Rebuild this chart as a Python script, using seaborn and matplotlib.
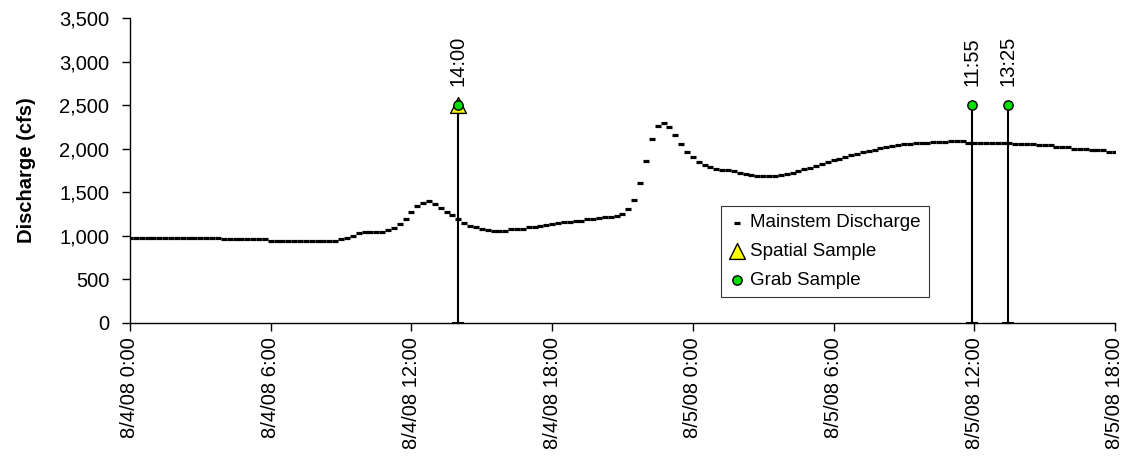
import pandas as pd
import matplotlib.pyplot as plt
import matplotlib.dates as mdates
from matplotlib.ticker import FuncFormatter, MultipleLocator
import seaborn as sns

# --- data (15 minute discharge, cfs) ---
START = "2008-08-04 00:00"
discharge = [
    978, 978, 978, 978, 978, 978, 978, 978, 978, 978, 978, 978, 978, 978, 978, 978,
    960, 960, 960, 960, 960, 960, 960, 960,
    945, 945, 945, 945, 945, 945, 945, 945, 945, 945, 945, 945,
    959, 977, 1000, 1031, 1050, 1050, 1050, 1050, 1065, 1085, 1134, 1188, 1272, 1341,
    1380, 1395, 1364, 1322, 1272, 1238, 1188,
    1150, 1115, 1096, 1080, 1070, 1061, 1061, 1061, 1077, 1080, 1080, 1100, 1104, 1115,
    1119, 1138, 1142, 1157, 1157, 1172, 1175, 1188, 1190, 1203,
    1211, 1219, 1230, 1249, 1311, 1414, 1602, 1862, 2108, 2261, 2299, 2253, 2161, 2057,
    1966, 1901, 1844, 1809, 1786, 1770, 1759, 1751, 1740, 1724, 1713, 1701, 1690, 1690,
    1686, 1686, 1698, 1709, 1724, 1747, 1763, 1782, 1805, 1824, 1847, 1866, 1885, 1905,
    1924, 1943, 1959, 1977, 1989, 2004, 2016, 2034, 2046, 2050, 2058, 2066, 2069, 2069,
    2073, 2073, 2081,
    2092, 2092, 2092,
    2069, 2069, 2069, 2069, 2069, 2069, 2069, 2069,
    2054, 2054, 2054, 2054,
    2039, 2039, 2039,
    2020, 2020, 2020,
    2000, 2000, 2000,
    1985, 1985, 1985,
    1966, 1966,
]
times = pd.date_range(START, periods=len(discharge), freq="15min")

spatial_times = pd.to_datetime(["2008-08-04 14:00"])
spatial_values = [2500]
grab_times = pd.to_datetime(["2008-08-04 14:00", "2008-08-05 11:55", "2008-08-05 13:25"])
grab_values = [2500, 2500, 2500]
grab_labels = ["14:00", "11:55", "13:25"]

sns.set_style("ticks")
plt.rcParams["font.family"] = ["Liberation Sans", "DejaVu Sans"]
plt.rcParams.update({"text.color": "black", "axes.labelcolor": "black",
                     "xtick.color": "black", "ytick.color": "black"})

fig = plt.figure(figsize=(11.27, 4.66), dpi=100)
ax = fig.add_axes([130 / 1127, 1 - 323 / 466, 985 / 1127, 305 / 466])

# vertical drop lines from each sample down to zero, capped at the bottom
ax.vlines(grab_times, 0, grab_values, color="black", linewidth=1.5, zorder=2)
sns.scatterplot(x=grab_times, y=[0] * len(grab_times), marker="_", s=80,
                color="black", linewidth=1.5, ax=ax, zorder=2, clip_on=False)

sns.scatterplot(x=times, y=discharge, marker="_", s=18, color="black",
                linewidth=2.3, ax=ax, label="Mainstem Discharge", zorder=3)
sns.scatterplot(x=spatial_times, y=spatial_values, marker="^", s=130,
                color="#FFFF00", edgecolor="black", linewidth=1, ax=ax,
                label="Spatial Sample", zorder=4)
sns.scatterplot(x=grab_times, y=grab_values, marker="o", s=45,
                color="#00E000", edgecolor="black", linewidth=1, ax=ax,
                label="Grab Sample", zorder=5)

for t, v, lab in zip(grab_times, grab_values, grab_labels):
    ax.annotate(lab, (t, v), xytext=(0, 14), textcoords="offset points",
                rotation=90, ha="center", va="bottom", fontsize=14.5)

ax.set_xlim(pd.Timestamp("2008-08-04 00:00"), pd.Timestamp("2008-08-05 18:00"))
ax.set_ylim(0, 3500)
ax.yaxis.set_major_locator(MultipleLocator(500))
ax.yaxis.set_major_formatter(FuncFormatter(lambda v, p: f"{v:,.0f}"))
ax.xaxis.set_major_locator(mdates.HourLocator(byhour=[0, 6, 12, 18]))


def fmt_date(x, pos):
    d = mdates.num2date(x)
    return f"{d.month}/{d.day}/{d:%y} {d.hour}:{d:%M}"


ax.xaxis.set_major_formatter(FuncFormatter(fmt_date))
plt.setp(ax.get_xticklabels(), rotation=90, ha="center", va="top")

ax.set_xlabel("")
ax.set_ylabel("Discharge (cfs)", fontsize=14.5, fontweight="bold")
ax.yaxis.set_label_coords(-0.095, 0.5)
ax.tick_params(axis="both", labelsize=14.5, length=6, width=1, color="black",
               labelcolor="black", direction="out")
ax.tick_params(axis="x", pad=4)
ax.tick_params(axis="y", pad=9)
for s in ["top", "right"]:
    ax.spines[s].set_visible(False)
for s in ["left", "bottom"]:
    ax.spines[s].set_color("black")
    ax.spines[s].set_linewidth(1)

leg = ax.legend(loc="upper left", bbox_to_anchor=(0.6, 0.384), borderaxespad=0,
                fontsize=13.5, frameon=True, fancybox=False, handlelength=0.8,
                handletextpad=0.3, labelspacing=0.62, borderpad=0.45)
leg.get_frame().set_edgecolor("black")
leg.get_frame().set_linewidth(0.8)

plt.savefig("out.png", dpi=100)
